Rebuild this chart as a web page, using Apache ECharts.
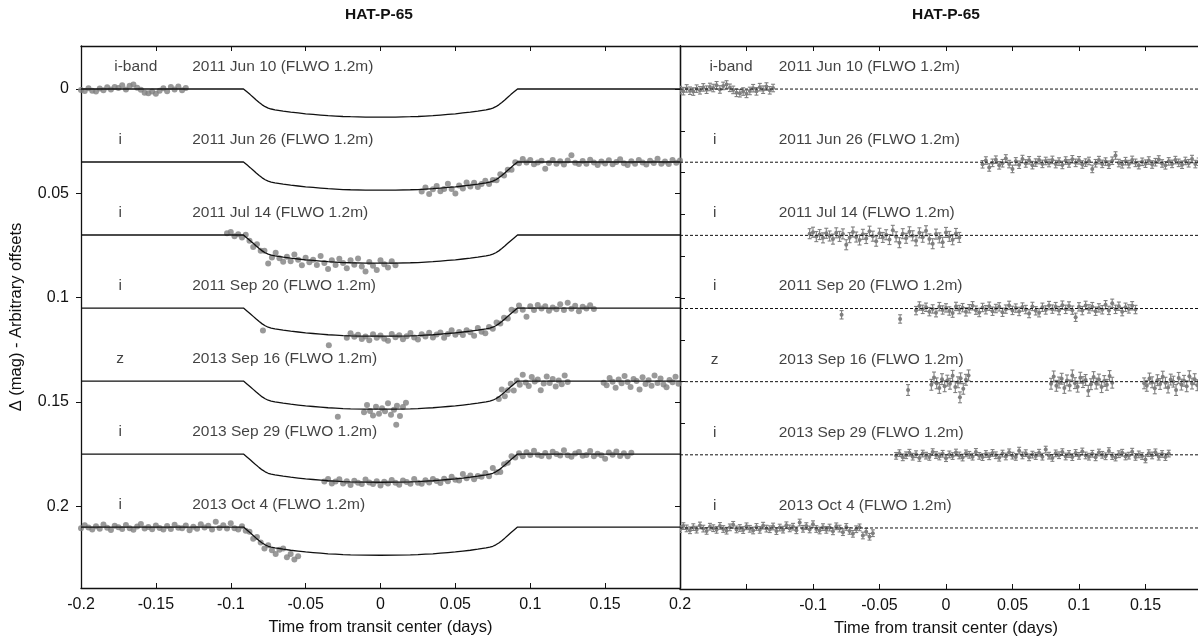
<!DOCTYPE html>
<html>
<head>
<meta charset="utf-8">
<title>HAT-P-65 transit light curves</title>
<script src="https://cdn.jsdelivr.net/npm/echarts@6.0.0/dist/echarts.min.js"></script>
<style>
  html, body { margin: 0; padding: 0; background: #fff; }
  #chart { width: 1198px; height: 641px; }
</style>
</head>
<body>
<div id="chart"></div>
<script>
// axis ticks
const xTicks = [-0.2, -0.15, -0.1, -0.05, 0, 0.05, 0.1, 0.15, 0.2]
const resXLabels = [-0.1, -0.05, 0, 0.05, 0.1, 0.15]
const yTicks = [0, 0.05, 0.1, 0.15, 0.2]
const resYTicks = [0.02, 0.04, 0.06, 0.08, 0.1, 0.12, 0.14, 0.16]

// one entry per night, top to bottom
const baselines = [0, 0.035, 0.07, 0.105, 0.14, 0.175, 0.21]
const bands = ['i-band', 'i', 'i', 'i', 'z', 'i', 'i']
const nights = ['2011 Jun 10 (FLWO 1.2m)', '2011 Jun 26 (FLWO 1.2m)', '2011 Jul 14 (FLWO 1.2m)',
  '2011 Sep 20 (FLWO 1.2m)', '2013 Sep 16 (FLWO 1.2m)', '2013 Sep 29 (FLWO 1.2m)', '2013 Oct 4 (FLWO 1.2m)']
const errBar = [1.8, 1.8, 2.4, 2.0, 2.6, 1.6, 1.6] // mmag, half length

// transit model, depth in mmag
const modelT = [-0.2, -0.0915, -0.089, -0.087, -0.085, -0.083, -0.081, -0.079, -0.077, -0.075, -0.073, -0.0705,
  -0.065, -0.06, -0.055, -0.05, -0.045, -0.04, -0.035, -0.03, -0.025, -0.02, -0.01, 0, 0.01, 0.02, 0.025, 0.03,
  0.035, 0.04, 0.045, 0.05, 0.055, 0.06, 0.065, 0.0705, 0.073, 0.075, 0.077, 0.079, 0.081, 0.083, 0.085, 0.087,
  0.089, 0.0915, 0.2]
const modelDepth = [0, 0, 1.5, 2.7, 4.0, 5.3, 6.5, 7.6, 8.5, 9.2, 9.6, 10.0,
  10.6, 11.1, 11.5, 11.9, 12.2, 12.5, 12.8, 13.0, 13.2, 13.3, 13.45, 13.5, 13.45, 13.3, 13.2, 13.0,
  12.8, 12.5, 12.2, 11.9, 11.5, 11.1, 10.6, 10.0, 9.6, 9.2, 8.5, 7.6, 6.5, 5.3, 4.0, 2.7,
  1.5, 0, 0]

// photometry: t = days from transit center, d = mag below baseline (mmag), r = residual (mmag)
const tJun10 = [-0.2, -0.1975, -0.195, -0.1925, -0.19, -0.1875, -0.185, -0.1825, -0.18, -0.1775, -0.175, -0.1725,
  -0.17, -0.1675, -0.165, -0.1625, -0.16, -0.1575, -0.155, -0.1525, -0.15, -0.1475, -0.145, -0.1425, -0.14,
  -0.1375, -0.135, -0.1325, -0.13]
const rJun10 = [0.5, 1.0, -0.3, 0.8, 1.2, -0.2, 0.6, -0.8, 0.3, -1.0, -0.5, -1.8, 0.2, -1.5, -2.2, -0.6, 0.4, 1.8,
  2.0, 1.2, 2.3, 0.9, -0.4, 1.1, -0.9, 0.3, -1.2, 0.6, -0.5]
const dJun10 = [0.5, 1.0, -0.3, 0.8, 1.2, -0.2, 0.6, -0.8, 0.3, -1.0, -0.5, -1.8, 0.2, -1.5, -2.2, -0.6, 0.4, 1.8,
  2.0, 1.2, 2.3, 0.9, -0.4, 1.1, -0.9, 0.3, -1.2, 0.6, -0.5]

const tJun26 = [0.0275, 0.03, 0.0325, 0.035, 0.0375, 0.04, 0.0425, 0.045, 0.0475, 0.05, 0.0525, 0.055, 0.0575,
  0.06, 0.0625, 0.065, 0.0675, 0.07, 0.0725, 0.075, 0.0775, 0.08, 0.0825, 0.085, 0.0875, 0.09, 0.0925, 0.095,
  0.0975, 0.1, 0.1025, 0.105, 0.1075, 0.11, 0.1125, 0.115, 0.1175, 0.12, 0.1225, 0.125, 0.1275, 0.13, 0.1325,
  0.135, 0.1375, 0.14, 0.1425, 0.145, 0.1475, 0.15, 0.1525, 0.155, 0.1575, 0.16, 0.1625, 0.165, 0.1675, 0.17,
  0.1725, 0.175, 0.1775, 0.18, 0.1825, 0.185, 0.1875, 0.19, 0.1925, 0.195, 0.1975, 0.2]
const rJun26 = [1.0, -0.8, 2.5, 0.3, -1.2, 1.5, 0.5, -1.8, 0.9, 3.2, -0.4, 1.2, -1.5, 0.6, -0.9, 1.4, 0.2, -1.0,
  0.8, -0.6, 0.4, -1.1, 0.9, -0.3, 1.3, -0.8, 0.6, -1.4, 0.3, -0.9, 1.1, 0.2, -0.6, 3.2, 0.5, -1.0, 0.8, -0.3,
  1.2, -0.7, -3.2, 0.4, 1.0, -0.5, 0.9, -1.1, 0.3, 1.4, -0.2, 0.7, -0.8, 1.1, 0.0, -1.3, 0.6, 1.5, -0.4, 0.8,
  -1.0, 0.3, 1.2, -0.6, 0.5, -1.5, 0.9, -0.2, 1.0, -0.9, 0.4, -0.7]
const dJun26 = [14.1, 12.2, 15.4, 13.1, 11.5, 14.0, 12.9, 10.4, 13.0, 15.1, 11.3, 12.7, 9.8, 11.7, 9.9, 12.0, 10.5,
  9.0, 10.5, 8.6, 8.7, 5.9, 6.5, 3.7, 3.7, 0.1, 0.6, -1.4, 0.3, -0.9, 1.1, 0.2, -0.6, 3.2, 0.5, -1.0, 0.8, -0.3,
  1.2, -0.7, -3.2, 0.4, 1.0, -0.5, 0.9, -1.1, 0.3, 1.4, -0.2, 0.7, -0.8, 1.1, 0.0, -1.3, 0.6, 1.5, -0.4, 0.8,
  -1.0, 0.3, 1.2, -0.6, 0.5, -1.5, 0.9, -0.2, 1.0, -0.9, 0.4, -0.7]

const tJul14 = [-0.1025, -0.1, -0.0975, -0.095, -0.0925, -0.09, -0.0875, -0.085, -0.0825, -0.08, -0.0775, -0.075,
  -0.0725, -0.07, -0.0675, -0.065, -0.0625, -0.06, -0.0575, -0.055, -0.0525, -0.05, -0.0475, -0.045, -0.0425,
  -0.04, -0.0375, -0.035, -0.0325, -0.03, -0.0275, -0.025, -0.0225, -0.02, -0.0175, -0.015, -0.0125, -0.01,
  -0.0075, -0.005, -0.0025, 0, 0.0025, 0.005, 0.0075, 0.01]
const rJul14 = [-0.8, -1.5, 0.6, -0.4, 1.2, -1.0, 0.3, 1.8, -1.2, 0.5, -0.7, 4.5, 1.1, -1.6, 0.8, 2.2, -0.5, 1.5,
  -2.0, 0.4, 2.8, -1.0, 1.0, -0.3, 2.0, -2.4, 0.7, 3.5, -0.8, 1.4, -1.7, 0.2, 2.6, -1.2, 0.9, -2.2, 1.7, 4.0,
  -0.6, 1.2, 3.3, -1.4, 0.5, 2.1, -0.9, 1.0]
const dJul14 = [-0.8, -1.5, 0.6, -0.4, 1.2, -0.1, 2.7, 5.8, 4.4, 7.6, 7.6, 13.7, 10.8, 8.5, 11.1, 12.8, 10.4, 12.6,
  9.3, 11.9, 14.5, 10.9, 13.1, 11.9, 14.4, 10.1, 13.4, 16.3, 12.1, 14.4, 11.4, 13.4, 15.9, 12.1, 14.3, 11.2, 15.1,
  17.5, 12.9, 14.7, 16.8, 12.1, 14.0, 15.6, 12.6, 14.5]

const tSep20 = [-0.0785, -0.0345, -0.0225, -0.02, -0.0175, -0.015, -0.0125, -0.01, -0.0075, -0.005, -0.0025, 0,
  0.0025, 0.005, 0.0075, 0.01, 0.0125, 0.015, 0.0175, 0.02, 0.0225, 0.025, 0.0275, 0.03, 0.0325, 0.035, 0.0375,
  0.04, 0.0425, 0.045, 0.0475, 0.05, 0.0525, 0.055, 0.0575, 0.06, 0.0625, 0.065, 0.0675, 0.07, 0.0725, 0.075,
  0.0775, 0.08, 0.0825, 0.085, 0.0875, 0.09, 0.0925, 0.095, 0.0975, 0.1, 0.1025, 0.105, 0.1075, 0.11, 0.1125,
  0.115, 0.1175, 0.12, 0.1225, 0.125, 0.1275, 0.13, 0.1325, 0.135, 0.1375, 0.14, 0.1425]
const rSep20 = [3.0, 5.0, 1.0, -1.2, 0.4, -0.6, 1.5, 0.2, 2.0, -0.9, 0.7, -0.3, 1.2, 2.2, -1.0, 0.5, -0.4, 1.6,
  0.1, -1.3, 0.8, 1.9, -0.5, 0.6, -1.1, 1.3, 0.0, -0.8, 1.8, 0.3, -1.5, 0.9, -0.2, 1.4, -0.7, 0.5, 2.4, -1.0,
  1.1, 2.0, -0.6, 0.7, -1.4, 0.3, -0.9, 1.0, -1.6, 0.4, -1.2, 0.8, 4.2, -0.8, 1.0, -1.5, 0.2, -0.9, 1.3, -0.3,
  0.6, -1.8, 0.9, -2.5, 0.4, -1.1, 1.5, -0.6, 0.2, -1.3, 0.5]
const dSep20 = [10.8, 17.8, 14.3, 12.1, 13.8, 12.8, 14.9, 13.7, 15.5, 12.6, 14.2, 13.2, 14.7, 15.7, 12.5, 14.0,
  13.0, 15.0, 13.5, 12.0, 14.1, 15.1, 12.6, 13.6, 11.8, 14.1, 12.7, 11.7, 14.2, 12.5, 10.6, 12.8, 11.5, 12.9,
  10.6, 11.6, 13.3, 9.6, 11.4, 12.1, 9.1, 9.9, 6.9, 7.4, 4.7, 5.0, 0.8, 1.3, -1.2, 0.8, 4.2, -0.8, 1.0, -1.5,
  0.2, -0.9, 1.3, -0.3, 0.6, -1.8, 0.9, -2.5, 0.4, -1.1, 1.5, -0.6, 0.2, -1.3, 0.5]

const tSep16 = [-0.0285, 0.0105, -0.011, -0.009, -0.007, -0.005, -0.003, -0.001, 0.001, 0.003, 0.005, 0.007, 0.009,
  0.011, 0.013, 0.015, 0.017, 0.079, 0.081, 0.083, 0.085, 0.087, 0.089, 0.091, 0.093, 0.095, 0.097, 0.099, 0.101,
  0.103, 0.105, 0.107, 0.109, 0.111, 0.113, 0.115, 0.117, 0.119, 0.121, 0.123, 0.125, 0.149, 0.151, 0.153, 0.155,
  0.157, 0.159, 0.161, 0.163, 0.165, 0.167, 0.169, 0.171, 0.173, 0.175, 0.177, 0.179, 0.181, 0.183, 0.185, 0.187,
  0.189, 0.191, 0.193, 0.195, 0.197, 0.199]
const rSep16 = [4.0, 7.5, 1.5, -2.0, 0.8, 3.0, -1.2, 2.2, -0.5, 1.0, -2.8, 2.6, 0.3, -1.6, 3.4, -0.9, -3.0,
  1.0, -2.5, 2.0, 0.4, -1.4, 3.0, -0.6, 1.8, -3.0, 0.7, 2.4, -1.9, 0.2, -0.8, 4.4, 1.2, -2.2, 0.9, -1.0, 2.6,
  -0.3, 1.5, -2.7, 0.5, 0.8, 2.0, -1.5, 0.3, 3.2, -0.7, 1.1, -2.4, 0.5, 2.8, -1.0, 0.0, 4.0, -1.8, 1.4, -0.4,
  2.2, -2.6, 0.9, -1.2, 1.7, 3.0, -0.5, 0.6, -2.0, 1.3]
const dSep16 = [17.1, 21.0, 15.0, 11.5, 14.3, 16.5, 12.3, 15.7, 13.0, 14.5, 10.7, 16.1, 13.8, 11.9, 16.8, 12.5, 10.4,
  8.6, 4.0, 7.3, 4.4, 1.3, 4.5, -0.3, 1.8, -3.0, 0.7, 2.4, -1.9, 0.2, -0.8, 4.4, 1.2, -2.2, 0.9, -1.0, 2.6,
  -0.3, 1.5, -2.7, 0.5, 0.8, 2.0, -1.5, 0.3, 3.2, -0.7, 1.1, -2.4, 0.5, 2.8, -1.0, 0.0, 4.0, -1.8, 1.4, -0.4,
  2.2, -2.6, 0.9, -1.2, 1.7, 3.0, -0.5, 0.6, -2.0, 1.3]

const tSep29 = [-0.0375, -0.035, -0.0325, -0.03, -0.0275, -0.025, -0.0225, -0.02, -0.0175, -0.015, -0.0125, -0.01,
  -0.0075, -0.005, -0.0025, 0, 0.0025, 0.005, 0.0075, 0.01, 0.0125, 0.015, 0.0175, 0.02, 0.0225, 0.025, 0.0275,
  0.03, 0.0325, 0.035, 0.0375, 0.04, 0.0425, 0.045, 0.0475, 0.05, 0.0525, 0.055, 0.0575, 0.06, 0.0625, 0.065,
  0.0675, 0.07, 0.0725, 0.075, 0.0775, 0.08, 0.0825, 0.085, 0.0875, 0.09, 0.0925, 0.095, 0.0975, 0.1, 0.1025,
  0.105, 0.1075, 0.11, 0.1125, 0.115, 0.1175, 0.12, 0.1225, 0.125, 0.1275, 0.13, 0.1325, 0.135, 0.1375, 0.14,
  0.1425, 0.145, 0.1475, 0.15, 0.1525, 0.155, 0.1575, 0.16, 0.1625, 0.165, 0.1675]
const rSep29 = [0.5, -0.8, 1.2, 0.2, -1.0, 0.9, -0.3, 1.5, -0.6, 0.4, 1.0, -1.3, 0.1, 0.8, -0.5, 1.6, -0.2, 0.6,
  -1.1, 0.3, 1.3, -0.7, 0.0, 0.9, -1.4, 0.5, 1.1, -0.4, 0.7, -0.9, 0.2, 1.4, -0.6, 0.8, -1.2, 0.4, 1.0, -2.0,
  0.3, -0.8, 1.2, -0.1, 0.6, -1.0, 0.9, -2.5, 0.4, 1.5, -0.7, 0.2, -1.3, 0.8, -0.4, 1.1, -0.9, 0.5, -1.6, 0.3,
  0.9, -0.5, 1.2, -1.1, 0.0, 0.7, -1.8, 0.6, 1.3, -0.3, -1.0, 0.8, 0.4, -1.5, 1.0, -0.2, 0.6, 2.2, -0.8, 0.3,
  -1.2, 0.9, -0.4, 1.1, -0.6]
const dSep29 = [13.2, 12.0, 14.1, 13.2, 12.1, 14.1, 13.0, 14.8, 12.8, 13.8, 14.4, 12.2, 13.6, 14.3, 13.0, 15.1, 13.3,
  14.1, 12.4, 13.8, 14.7, 12.7, 13.4, 14.2, 11.9, 13.7, 14.2, 12.6, 13.6, 11.9, 12.9, 13.9, 11.8, 13.0, 10.9,
  12.3, 12.7, 9.5, 11.6, 10.3, 12.1, 10.5, 10.9, 9.1, 10.6, 6.7, 8.7, 8.6, 4.9, 4.2, 1.1, 1.7, -0.4, 1.1, -0.9,
  0.5, -1.6, 0.3, 0.9, -0.5, 1.2, -1.1, 0.0, 0.7, -1.8, 0.6, 1.3, -0.3, -1.0, 0.8, 0.4, -1.5, 1.0, -0.2, 0.6,
  2.2, -0.8, 0.3, -1.2, 0.9, -0.4, 1.1, -0.6]

const tOct4 = [-0.2, -0.1975, -0.195, -0.1925, -0.19, -0.1875, -0.185, -0.1825, -0.18, -0.1775, -0.175, -0.1725,
  -0.17, -0.1675, -0.165, -0.1625, -0.16, -0.1575, -0.155, -0.1525, -0.15, -0.1475, -0.145, -0.1425, -0.14,
  -0.1375, -0.135, -0.1325, -0.13, -0.1275, -0.125, -0.1225, -0.12, -0.1175, -0.115, -0.1125, -0.11, -0.1075,
  -0.105, -0.1025, -0.1, -0.0975, -0.095, -0.0925, -0.09, -0.0875, -0.085, -0.0825, -0.08, -0.0775, -0.075,
  -0.0725, -0.07, -0.0675, -0.065, -0.0625, -0.06, -0.0575, -0.055]
const rOct4 = [0.6, -0.9, 0.2, 1.1, -0.4, 0.8, -1.2, 0.3, 1.4, -0.6, 0.1, 0.9, -1.0, 0.5, 1.3, -0.3, -1.5, 0.7,
  0.0, 1.0, -0.8, 0.4, 1.2, -0.5, 0.9, -1.1, 0.3, 0.6, -0.7, 1.5, -0.2, 0.8, -1.3, 0.2, -0.6, 1.1, -2.6, 0.4,
  -0.9, 0.7, -1.8, 0.5, 1.2, -0.4, 0.9, -0.2, 1.6, -0.8, 0.3, 2.0, -0.5, 1.4, 2.8, 0.6, -0.3, 3.6, 1.8, 4.2, 2.5]
const dOct4 = [0.6, -0.9, 0.2, 1.1, -0.4, 0.8, -1.2, 0.3, 1.4, -0.6, 0.1, 0.9, -1.0, 0.5, 1.3, -0.3, -1.5, 0.7,
  0.0, 1.0, -0.8, 0.4, 1.2, -0.5, 0.9, -1.1, 0.3, 0.6, -0.7, 1.5, -0.2, 0.8, -1.3, 0.2, -0.6, 1.1, -2.6, 0.4,
  -0.9, 0.7, -1.8, 0.5, 1.2, -0.4, 1.8, 2.2, 5.6, 4.8, 7.35, 10.3, 8.7, 11.1, 12.85, 10.9, 10.3, 14.45, 12.9,
  15.5, 14.0]

const photometry = [
  { t: tJun10, d: dJun10, r: rJun10 },
  { t: tJun26, d: dJun26, r: rJun26 },
  { t: tJul14, d: dJul14, r: rJul14 },
  { t: tSep20, d: dSep20, r: rSep20 },
  { t: tSep16, d: dSep16, r: rSep16 },
  { t: tSep29, d: dSep29, r: rSep29 },
  { t: tOct4, d: dOct4, r: rOct4 }
]

const FONT = '"Liberation Sans", Arial, Helvetica, sans-serif'
const INK = '#111'
const DOT = '#7f7f7f'
const Y_MIN = -0.0206
const Y_MAX = 0.2392
// the residual panel is cut by the right edge of the picture, a bit before t = 0.2
const RES_X_MAX = 0.1895

function errorBar(params, api) {
  const x = api.value(0)
  const y = api.value(1)
  const e = api.value(2)
  const p = api.coord([x, y])
  const top = api.coord([x, y - e])[1]
  const bot = api.coord([x, y + e])[1]
  const cap = 2
  const style = { stroke: DOT, lineWidth: 1.1 }
  return {
    type: 'group',
    children: [
      { type: 'line', shape: { x1: p[0], y1: top, x2: p[0], y2: bot }, style: style },
      { type: 'line', shape: { x1: p[0] - cap, y1: top, x2: p[0] + cap, y2: top }, style: style },
      { type: 'line', shape: { x1: p[0] - cap, y1: bot, x2: p[0] + cap, y2: bot }, style: style },
      { type: 'circle', shape: { cx: p[0], cy: p[1], r: 2 }, style: { fill: DOT } }
    ]
  }
}

function xAxisBase(grid, pos, max, ticks) {
  return {
    type: 'value', gridIndex: grid, position: pos, min: -0.2, max: max,
    axisLine: { show: true, onZero: false, lineStyle: { color: INK, width: 1.3 } },
    axisTick: { show: true, inside: true, length: 5, customValues: ticks, lineStyle: { color: INK } },
    axisLabel: { show: false },
    splitLine: { show: false }
  }
}

function yAxisBase(grid, pos, ticks) {
  return {
    type: 'value', gridIndex: grid, position: pos, min: Y_MIN, max: Y_MAX, inverse: true,
    axisLine: { show: true, onZero: false, lineStyle: { color: INK, width: 1.3 } },
    axisTick: { show: true, inside: true, length: 5, customValues: ticks, lineStyle: { color: INK } },
    axisLabel: { show: false },
    splitLine: { show: false }
  }
}

const resTicks = xTicks.filter(v => v <= RES_X_MAX)

const xBottomLeft = xAxisBase(0, 'bottom', 0.2, xTicks)
xBottomLeft.axisLabel = { show: true, customValues: xTicks, fontSize: 16, color: INK, margin: 9, fontFamily: FONT }
xBottomLeft.name = 'Time from transit center (days)'
xBottomLeft.nameLocation = 'middle'
xBottomLeft.nameGap = 31
xBottomLeft.nameTextStyle = { fontSize: 16.5, color: INK, fontFamily: FONT }

const xBottomRight = xAxisBase(1, 'bottom', RES_X_MAX, resTicks)
xBottomRight.axisLabel = { show: true, customValues: resXLabels, fontSize: 16, color: INK, margin: 9, fontFamily: FONT }

const yLeft = yAxisBase(0, 'left', yTicks)
yLeft.axisTick.inside = false
yLeft.axisLabel = { show: true, customValues: yTicks, fontSize: 16, color: INK, margin: 12, fontFamily: FONT }
yLeft.name = 'Δ (mag) - Arbitrary offsets'
yLeft.nameLocation = 'middle'
yLeft.nameGap = 56
yLeft.nameTextStyle = { fontSize: 16.5, color: INK, fontFamily: FONT }

const series = []
photometry.forEach((n, i) => {
  const base = baselines[i]
  series.push({
    type: 'scatter', xAxisIndex: 0, yAxisIndex: 0, z: 2,
    data: n.t.map((t, k) => [t, base + n.d[k] / 1000]),
    symbolSize: 6, itemStyle: { color: DOT }
  })
  series.push({
    type: 'line', xAxisIndex: 0, yAxisIndex: 0, z: 3,
    data: modelT.map((t, k) => [t, base + modelDepth[k] / 1000]),
    symbol: 'none', lineStyle: { color: INK, width: 1.3 }
  })
  series.push({
    type: 'line', xAxisIndex: 2, yAxisIndex: 2, z: 3,
    data: [[-0.2, base], [RES_X_MAX, base]],
    symbol: 'none', lineStyle: { color: INK, width: 1, type: [3, 2] }
  })
  series.push({
    type: 'custom', xAxisIndex: 2, yAxisIndex: 2, z: 2, clip: true,
    renderItem: errorBar, encode: { x: 0, y: 1 },
    data: n.t.map((t, k) => [t, base + n.r[k] / 1000, errBar[i] / 1000])
  })
})

// night captions, the same in both panels
function captionSeries(xi, yi) {
  const data = []
  baselines.forEach((base, i) => {
    const wide = bands[i].length > 1
    data.push({ value: [wide ? -0.1775 : -0.1735, base - 0.0105], label: { formatter: bands[i], align: wide ? 'left' : 'center' } })
    data.push({ value: [-0.1254, base - 0.0105], label: { formatter: nights[i], align: 'left' } })
  })
  return {
    type: 'scatter', xAxisIndex: xi, yAxisIndex: yi, z: 5, silent: true,
    symbolSize: 1, itemStyle: { color: 'rgba(0,0,0,0)' },
    label: { show: true, position: [0, 0], verticalAlign: 'middle', fontSize: 15.5, color: INK, fontFamily: FONT },
    data: data
  }
}
series.push(captionSeries(0, 0))
series.push(captionSeries(2, 2))

const chart = echarts.init(document.getElementById('chart'))
chart.setOption({
  animation: false,
  backgroundColor: '#fff',
  textStyle: { fontFamily: FONT },
  graphic: [
    { type: 'text', x: 379, y: 15, style: { text: 'HAT-P-65', font: 'bold 15.5px ' + FONT, fill: INK, textAlign: 'center', textVerticalAlign: 'middle' } },
    { type: 'text', x: 946, y: 15, style: { text: 'HAT-P-65', font: 'bold 15.5px ' + FONT, fill: INK, textAlign: 'center', textVerticalAlign: 'middle' } },
    { type: 'text', x: 946, y: 628, style: { text: 'Time from transit center (days)', font: '16.5px ' + FONT, fill: INK, textAlign: 'center', textVerticalAlign: 'middle' } }
  ],
  grid: [
    { left: 78, top: 46, width: 602, height: 543 },
    { left: 680, top: 46, width: 518, height: 543 }
  ],
  xAxis: [xBottomLeft, xAxisBase(0, 'top', 0.2, xTicks), xBottomRight, xAxisBase(1, 'top', RES_X_MAX, resTicks)],
  yAxis: [yLeft, yAxisBase(0, 'right', yTicks), yAxisBase(1, 'left', resYTicks)],
  series: series
})
</script>
</body>
</html>
